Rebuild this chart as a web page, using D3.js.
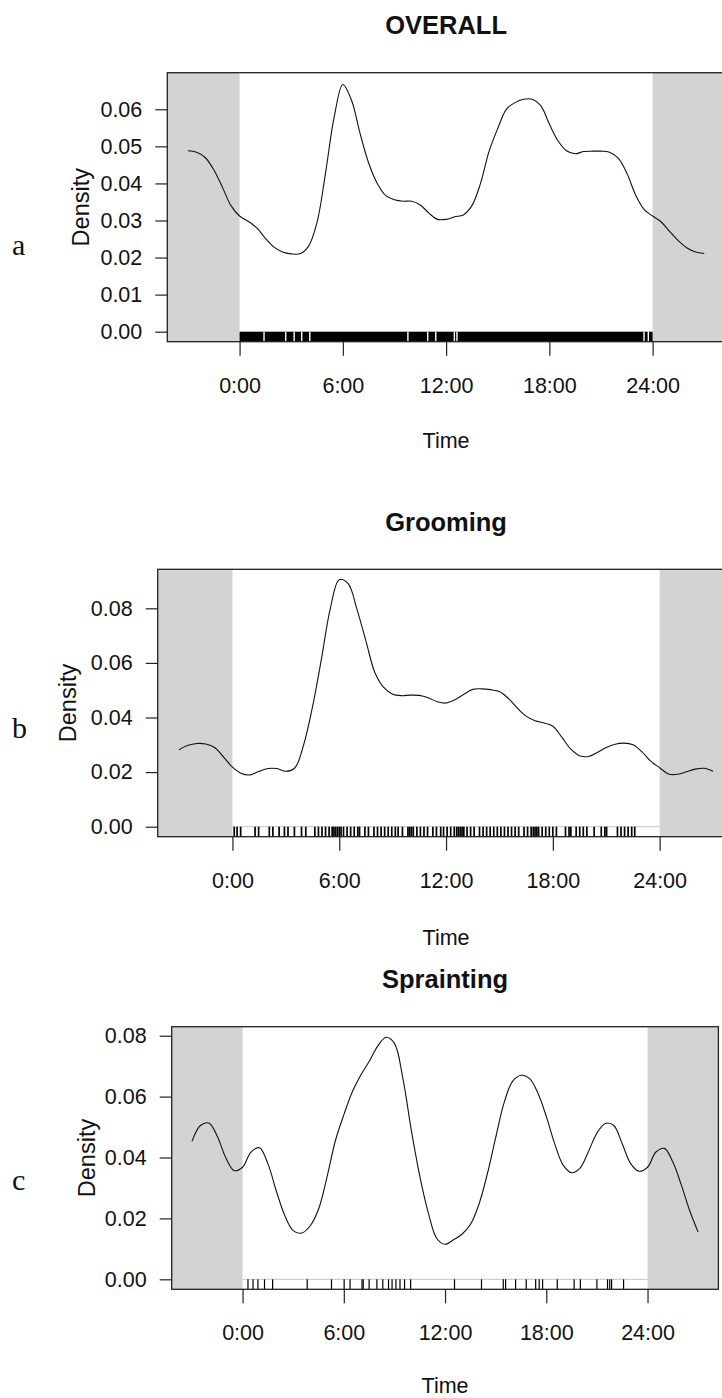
<!DOCTYPE html>
<html>
<head>
<meta charset="utf-8">
<script src="https://cdn.jsdelivr.net/npm/d3@7"></script>
<style>
  body { margin: 0; background: #fff; }
  svg text { font-family: "Liberation Sans", Arial, sans-serif; fill: #111; }
</style>
</head>
<body>
<div id="chart"></div>
<script>
// hours along the x axis (curve sample points, -3h .. 27h)
const hours = [-3,-2.5,-2,-1.5,-1,-0.5,0,0.5,1,1.5,2,2.5,3,3.5,4,4.5,5,5.5,6,6.5,7,7.5,8,8.5,9,9.5,10,10.5,11,11.5,12,12.5,13,13.5,14,14.5,15,15.5,16,16.5,17,17.5,18,18.5,19,19.5,20,20.5,21,21.5,22,22.5,23,23.5,24,24.5,25,25.5,26,26.5,27];

const overallDensity = [0.0488,0.0484,0.0470,0.0437,0.0390,0.0340,0.0312,0.0298,0.0280,0.0252,0.0228,0.0215,0.0210,0.0210,0.0230,0.0295,0.0430,0.0580,0.0667,0.0625,0.0535,0.0455,0.0400,0.0367,0.0356,0.0352,0.0352,0.0342,0.0320,0.0303,0.0303,0.0310,0.0315,0.0340,0.0400,0.0487,0.0548,0.0600,0.0618,0.0627,0.0627,0.0610,0.0560,0.0515,0.0488,0.0480,0.0486,0.0487,0.0487,0.0484,0.0468,0.0428,0.0370,0.0330,0.0312,0.0296,0.0270,0.0245,0.0226,0.0215,0.0211];

const groomingDensity = [0.0282,0.0298,0.0305,0.0303,0.0290,0.0255,0.0218,0.0195,0.0190,0.0203,0.0213,0.0213,0.0203,0.0215,0.0300,0.0440,0.0615,0.0800,0.0905,0.0890,0.0795,0.0680,0.0565,0.0510,0.0485,0.0480,0.0482,0.0481,0.0472,0.0458,0.0453,0.0465,0.0485,0.0503,0.0505,0.0502,0.0495,0.0470,0.0435,0.0405,0.0388,0.0380,0.0368,0.0328,0.0285,0.0260,0.0257,0.0272,0.0290,0.0302,0.0306,0.0300,0.0275,0.0240,0.0216,0.0193,0.0192,0.0201,0.0211,0.0214,0.0203];

const spraintingDensity = [0.0453,0.0505,0.0513,0.0470,0.0400,0.0357,0.0368,0.0418,0.0432,0.0380,0.0290,0.0210,0.0160,0.0152,0.0175,0.0230,0.0335,0.0455,0.0540,0.0615,0.0670,0.0715,0.0765,0.0795,0.0775,0.0660,0.0490,0.0340,0.0220,0.0135,0.0115,0.0130,0.0148,0.0180,0.0245,0.0345,0.0465,0.0580,0.0650,0.0670,0.0660,0.0612,0.0535,0.0445,0.0375,0.0350,0.0365,0.0420,0.0480,0.0512,0.0505,0.0445,0.0380,0.0355,0.0368,0.0418,0.0430,0.0385,0.0310,0.0225,0.0155];

// rug: overall is almost solid, so only the empty gaps are listed
const overallRugGaps = [1.42,2.68,3.17,3.61,4.08,9.78,10.93,11.4,12.48,12.63,23.5,23.75];

const groomingRug = [0.1,0.26,0.46,1.27,1.47,2.07,2.27,2.62,2.92,3.12,3.48,3.88,4.12,4.63,4.83,5.03,5.23,5.43,5.6,5.7,5.8,5.9,6.0,6.1,6.24,6.44,6.64,6.84,7.04,7.14,7.44,7.64,7.95,8.15,8.35,8.55,8.75,8.95,9.15,9.31,9.55,9.86,9.96,10.06,10.16,10.36,10.56,10.76,10.96,11.26,11.46,11.7,11.86,12.06,12.26,12.46,12.6,12.7,12.8,12.9,13.0,13.18,13.38,13.58,13.88,14.08,14.28,14.48,14.68,14.88,15.08,15.28,15.48,15.68,15.88,16.08,16.38,16.58,16.78,16.9,17.0,17.1,17.2,17.4,17.6,17.8,18.0,18.2,18.71,18.91,19.01,19.31,19.51,19.71,19.91,20.32,20.72,20.92,21.02,21.63,21.83,22.03,22.23,22.43,22.6];

const spraintingRug = [0.32,0.62,0.91,1.3,1.78,3.83,5.27,6.02,6.37,7.08,7.15,7.5,7.96,8.31,8.65,8.86,9.09,9.33,9.6,9.96,12.56,14.16,15.45,15.59,16.18,16.81,17.37,17.58,17.78,18.65,19.65,20.02,21.0,21.63,21.76,21.87,22.58];

const timeTicks = [0, 6, 12, 18, 24];
const timeLabels = ["0:00", "6:00", "12:00", "18:00", "24:00"];
const densityTicksA = [0, 0.01, 0.02, 0.03, 0.04, 0.05, 0.06];
const densityTicksBC = [0, 0.02, 0.04, 0.06, 0.08];
const panelTitles = ["OVERALL", "Grooming", "Sprainting"];
const panelLetters = ["a", "b", "c"];

const width = 722, height = 1398;

const svg = d3.select("#chart")
  .append("svg")
  .attr("width", width)
  .attr("height", height)
  .attr("viewBox", [0, 0, width, height]);

// layout of each panel (pixel box and y range)
const panels = [
  { density: overallDensity, rug: "gaps", gaps: overallRugGaps, yTicks: densityTicksA,
    top: 72.7, bottom: 341.7, left: 167.3, right: 724.9, yDom: [-0.0027, 0.06987],
    titleY: 34, letterY: 255, densX: 89, timeY: 448, rugW: 1.2 },
  { density: groomingDensity, rug: groomingRug, yTicks: densityTicksBC,
    top: 569.3, bottom: 836.7, left: 157.7, right: 734.4, yDom: [-0.00366, 0.09429],
    titleY: 531, letterY: 738, densX: 76, timeY: 945, rugW: 1.7 },
  { density: spraintingDensity, rug: spraintingRug, yTicks: densityTicksBC,
    top: 1026.7, bottom: 1289.3, left: 171.7, right: 718.4, yDom: [-0.00328, 0.08296],
    titleY: 988, letterY: 1190, densX: 95, timeY: 1393, rugW: 1.2 }
];

panels.forEach((p, i) => {
  const g = svg.append("g");

  const x = d3.scaleLinear().domain([-4.2, 28.2]).range([p.left, p.right]);
  const y = d3.scaleLinear().domain(p.yDom).range([p.bottom, p.top]);

  // night shading before 0:00 and after 24:00
  g.append("rect")
    .attr("x", x(-4.2)).attr("y", p.top)
    .attr("width", x(0) - x(-4.2)).attr("height", p.bottom - p.top)
    .attr("fill", "#d3d3d3");
  g.append("rect")
    .attr("x", x(24)).attr("y", p.top)
    .attr("width", x(28.2) - x(24)).attr("height", p.bottom - p.top)
    .attr("fill", "#d3d3d3");

  // rug
  if (p.rug === "gaps") {
    g.append("rect")
      .attr("x", x(0)).attr("y", y(0))
      .attr("width", x(24) - x(0)).attr("height", p.bottom - y(0))
      .attr("fill", "#000");
    g.selectAll(".gap")
      .data(p.gaps)
      .join("line")
      .attr("x1", d => x(d)).attr("x2", d => x(d))
      .attr("y1", y(0)).attr("y2", p.bottom)
      .attr("stroke", "#fff").attr("stroke-width", 1.4);
  } else {
    g.append("line")
      .attr("x1", x(0)).attr("x2", x(24))
      .attr("y1", y(0)).attr("y2", y(0))
      .attr("stroke", "#c4c4c4").attr("stroke-width", 1);
    g.selectAll(".rug")
      .data(p.rug)
      .join("line")
      .attr("x1", d => x(d)).attr("x2", d => x(d))
      .attr("y1", y(0)).attr("y2", p.bottom)
      .attr("stroke", "#000").attr("stroke-width", p.rugW);
  }

  // density curve
  const line = d3.line()
    .x((d, j) => x(hours[j]))
    .y(d => y(d))
    .curve(d3.curveCatmullRom.alpha(0.5));
  g.append("path")
    .datum(p.density)
    .attr("d", line)
    .attr("fill", "none")
    .attr("stroke", "#111")
    .attr("stroke-width", 1.1);

  // frame
  g.append("rect")
    .attr("x", p.left).attr("y", p.top)
    .attr("width", p.right - p.left).attr("height", p.bottom - p.top)
    .attr("fill", "none").attr("stroke", "#222").attr("stroke-width", 1.3);

  // y axis
  const yAxis = g.append("g")
    .attr("transform", `translate(${p.left},0)`)
    .call(d3.axisLeft(y).tickValues(p.yTicks).tickFormat(d3.format(".2f")).tickSize(12).tickPadding(13));
  yAxis.select(".domain").remove();
  yAxis.selectAll("line").attr("stroke", "#222").attr("stroke-width", 1.2);
  yAxis.selectAll("text").attr("font-size", 21.5).attr("font-family", "Liberation Sans, Arial, sans-serif").attr("fill", "#222");

  // x axis
  const xAxis = g.append("g")
    .attr("transform", `translate(0,${p.bottom})`)
    .call(d3.axisBottom(x).tickValues(timeTicks).tickFormat((d, j) => timeLabels[j]).tickSize(14));
  xAxis.select(".domain").remove();
  xAxis.selectAll("line").attr("stroke", "#222").attr("stroke-width", 1.2);
  xAxis.selectAll("text")
    .attr("y", 51).attr("dy", 0)
    .attr("font-size", 21.5).attr("font-family", "Liberation Sans, Arial, sans-serif").attr("fill", "#222");

  const cx = (p.left + p.right) / 2;

  // title
  g.append("text")
    .attr("x", cx).attr("y", p.titleY)
    .attr("text-anchor", "middle")
    .attr("font-size", 25.5).attr("font-weight", "bold")
    .text(panelTitles[i]);

  // axis titles
  g.append("text")
    .attr("x", cx).attr("y", p.timeY)
    .attr("text-anchor", "middle")
    .attr("font-size", 21.5)
    .attr("fill", "#222")
    .text("Time");

  g.append("text")
    .attr("transform", `translate(${p.densX},${(p.top + p.bottom) / 2}) rotate(-90)`)
    .attr("text-anchor", "middle")
    .attr("font-size", 23.5)
    .attr("fill", "#222")
    .text("Density");

  // panel letter
  g.append("text")
    .attr("x", 12).attr("y", p.letterY)
    .style("font-family", "'Liberation Serif', 'Times New Roman', serif")
    .attr("font-size", 30)
    .text(panelLetters[i]);
});
</script>
</body>
</html>
